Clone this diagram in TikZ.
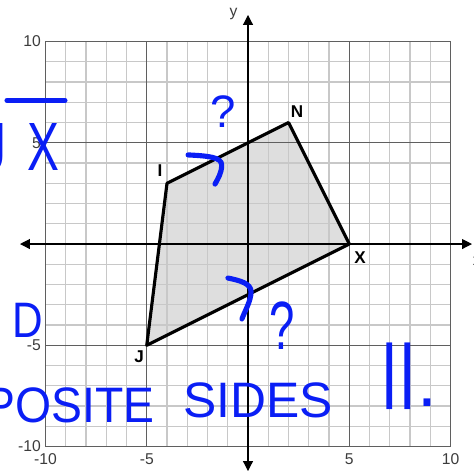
\documentclass[tikz,border=0pt]{standalone}
\usepackage{fontspec}
\setmainfont{Liberation Sans}
\usetikzlibrary{arrows.meta}
\definecolor{pen}{RGB}{10,30,245}
\definecolor{minorline}{RGB}{200,200,200}
\definecolor{majorline}{RGB}{95,95,95}
\definecolor{quadfill}{RGB}{222,222,222}
\definecolor{ink}{RGB}{60,60,60}
\tikzset{
  >={Triangle[length=7pt,width=7pt]},
  minor/.style={draw=minorline,line width=0.9pt},
  major/.style={draw=majorline,line width=0.8pt},
  axis/.style={<->,draw=black,line width=0.8pt},
  tick/.style={font=\fontsize{11}{11}\selectfont,text=ink,inner sep=1pt},
  vertex/.style={font=\fontsize{12}{12}\selectfont\bfseries,inner sep=1pt},
  edge/.style={draw=black,line width=2.2pt,line join=round},
  hand/.style={text=pen,font=\fontsize{#1}{#1}\selectfont,inner sep=0pt},
  hand/.default=35,
  stroke/.style={draw=pen,line width=3.6pt,line cap=round,line join=round},
}

\begin{document}
\begin{tikzpicture}[x=0.5cm,y=0.5cm]
  \useasboundingbox (-12.247,-11.26) rectangle (11.16,12.05);
  % vertices
  \coordinate (J) at (-5,-5);
  \coordinate (I) at (-4,3);
  \coordinate (N) at (2,6);
  \coordinate (X) at (5,0);
  \fill[quadfill] (J) -- (I) -- (N) -- (X) -- cycle;
  % grid
  \foreach \k in {-10,...,10} {
    \draw[minor] (\k,-10) -- (\k,10);
    \draw[minor] (-10,\k) -- (10,\k);
  }
  \foreach \k in {-10,-5,5,10} {
    \draw[major] (\k,-10) -- (\k,10);
    \draw[major] (-10,\k) -- (10,\k);
    \node[tick,anchor=east] (ylab\k) at (-10.15,\k) {\k};
    \node[tick] (xlab\k) at (\k,-10.62) {\k};
  }
  % axes
  \coordinate (xmin) at (-11.26,0);
  \coordinate (xmax) at (11.06,0);
  \coordinate (ymin) at (0,-11.21);
  \coordinate (ymax) at (0,11.31);
  \draw[axis] (xmin) -- (xmax);
  \draw[axis] (ymin) -- (ymax);
  \node[tick] (ylabel) at (-0.72,11.35) {y};
  \node[tick] (xlabel) at (11.3,-0.85) {x};
  % quadrilateral
  \draw[edge] (J) -- (I) -- (N) -- (X) -- cycle;
  \node[vertex] (Jlab) at (-5.38,-5.58) {J};
  \node[vertex] (Ilab) at (-4.35,3.6) {I};
  \node[vertex] (Nlab) at (2.42,6.52) {N};
  \node[vertex] (Xlab) at (5.53,-0.69) {X};
  % handwriting
  \draw[stroke] (-11.9,7.09) -- (-9.04,7.09);
  \node[hand=48,anchor=base east] (segJX) at (-9.28,3.65) {\scalebox{0.7}[1]{J\kern22pt X}};
  \node[hand=32,anchor=base] (qtop) at (-1.23,5.73) {?};
  \draw[stroke] (-2.96,4.40) .. controls (-2.0,4.35) and (-1.3,4.3) .. (-1.3,3.9)
    .. controls (-1.3,3.5) and (-1.5,3.2) .. (-1.63,2.96);
  \draw[stroke] (-0.99,-1.68) .. controls (-0.4,-1.8) and (0.15,-1.95) .. (0.15,-2.35)
    .. controls (0.15,-2.8) and (-0.15,-3.3) .. (-0.30,-3.70);
  \node[hand=32,anchor=base] (qlow) at (1.68,-5.19) {\scalebox{1}[1.5]{?}};
  \node[hand,anchor=base] (andD) at (-10.86,-4.64) {\scalebox{0.85}[1]{D}};
  \node[hand,anchor=base east] (posite) at (-4.59,-8.79) {\scalebox{0.93}[1]{POSITE}};
  \node[hand,anchor=base west] (sides) at (-3.21,-8.59) {SIDES};
  \node[hand=50,anchor=base west] (par) at (6.52,-7.41) {||\raisebox{-9pt}{.}};
\end{tikzpicture}
\end{document}
